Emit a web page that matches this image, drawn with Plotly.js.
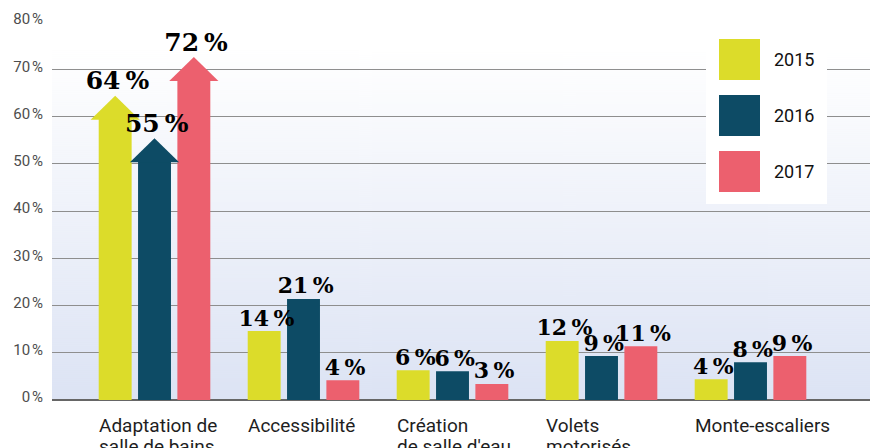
<!DOCTYPE html>
<html><head><meta charset="utf-8">
<script src="https://cdn.plot.ly/plotly-3.0.1.min.js"></script>
<style>html,body{margin:0;padding:0;background:#fff}#chart{width:872px;height:448px}</style>
</head><body><div id="chart"></div>
<script>
// ---- data ----
const categories = ['Adaptation de<br>salle de bains', 'Accessibilité', 'Création<br>de salle d\'eau', 'Volets<br>motorisés', 'Monte-escaliers'];
const years = ['2015', '2016', '2017'];
const values2015 = [64.4, 14.6, 6.3, 12.5, 4.4];
const values2016 = [55.4, 21.4, 6.1, 9.3, 8.0];
const values2017 = [72.6, 4.2, 3.4, 11.4, 9.3];
const labels2015 = ['64 %', '14 %', '6 %', '12 %', '4 %'];
const labels2016 = ['55 %', '21 %', '6 %', '9 %', '8 %'];
const labels2017 = ['72 %', '4 %', '3 %', '11 %', '9 %'];
const arrowCategories = [0];
const yTicks = [0, 10, 20, 30, 40, 50, 60, 70, 80];

// ---- styling / layout helpers ----
const colors = ['#dcdc2a', '#0d4b65', '#ec606e'];
const series = [values2015, values2016, values2017];
const seriesLabels = [labels2015, labels2016, labels2017];
const offsets = [-0.264, 0, 0.264];
const barW = 0.221;
const headH = 5.1;      // arrow head height in % units
const headHalf = 0.165; // arrow head half width in x units
const xRange = [-0.688, 4.802];
const plotL = 52, plotR = 870, plotT = 22, plotB = 400;
const pw = plotR - plotL, ph = plotB - plotT;
const nbsp = '\u202F';

const traces = [];
// bars
series.forEach((vals, k) => {
  traces.push({
    type: 'bar',
    x: vals.map((v, i) => i + offsets[k]),
    y: vals.map((v, i) => arrowCategories.includes(i) ? v - headH + 0.3 : v),
    width: vals.map(() => barW),
    marker: {color: colors[k], line: {width: 0}},
    name: years[k], showlegend: false, hoverinfo: 'skip'
  });
});
// arrow heads
series.forEach((vals, k) => {
  arrowCategories.forEach(i => {
    const cx = i + offsets[k], v = vals[i];
    traces.push({
      type: 'scatter', mode: 'lines', fill: 'toself',
      x: [cx - headHalf, cx, cx + headHalf, cx - headHalf],
      y: [v - headH, v, v - headH, v - headH],
      fillcolor: colors[k], line: {width: 0, color: colors[k]},
      showlegend: false, hoverinfo: 'skip'
    });
  });
});
// value labels
series.forEach((vals, k) => {
  traces.push({
    type: 'scatter', mode: 'text',
    x: vals.map((v, i) => i + offsets[k] + 0.015),
    y: vals,
    text: seriesLabels[k].map(t => t.replace(' ', nbsp)),
    textposition: 'top center',
    textfont: {family: 'DejaVu Serif, serif', size: vals.map((v, i) => arrowCategories.includes(i) ? 25 : 22), color: '#000', weight: 'bold'},
    cliponaxis: false, showlegend: false, hoverinfo: 'skip'
  });
});

// background gradient image
const cv = document.createElement('canvas');
cv.width = 4; cv.height = 350;
const ctx = cv.getContext('2d');
const g = ctx.createLinearGradient(0, 0, 0, 350);
g.addColorStop(0, '#ffffff');
g.addColorStop(1, '#dce3f4');
ctx.fillStyle = g; ctx.fillRect(0, 0, 4, 350);
const bgTop = (plotB - 50) / ph * 80;

// category labels (left aligned at first bar)
const annotations = [];
categories.forEach((c, i) => {
  c.split('<br>').forEach((line, j) => {
    annotations.push({
      text: line, xref: 'x', yref: 'paper', x: i + offsets[0] - barW / 2, y: 0,
      xanchor: 'left', yanchor: 'top', showarrow: false, align: 'left',
      yshift: -12 - j * 21, xshift: -2,
      font: {family: 'Roboto, sans-serif', size: 19, color: '#1e1e1e'}
    });
  });
});

// custom legend
const px2x = p => (p - plotL) / pw;
const px2y = p => (plotB - p) / ph;
const shapes = [{
  type: 'rect', xref: 'paper', yref: 'paper', layer: 'above',
  x0: px2x(706), x1: px2x(827), y0: px2y(204), y1: px2y(26),
  fillcolor: '#ffffff', line: {width: 0}
}];
years.forEach((yr, k) => {
  const top = 39 + k * 56;
  shapes.push({
    type: 'rect', xref: 'paper', yref: 'paper', layer: 'above',
    x0: px2x(719), x1: px2x(760), y0: px2y(top + 41), y1: px2y(top),
    fillcolor: colors[k], line: {width: 0}
  });
  annotations.push({
    text: yr, xref: 'paper', yref: 'paper', x: px2x(772), y: px2y(top + 20.5),
    xanchor: 'left', yanchor: 'middle', showarrow: false,
    font: {family: 'Roboto, sans-serif', size: 18, color: '#111'}
  });
});

const layout = {
  width: 872, height: 448,
  margin: {l: plotL, r: 872 - plotR, t: plotT, b: 448 - plotB, pad: 0},
  paper_bgcolor: '#ffffff', plot_bgcolor: 'rgba(0,0,0,0)',
  barmode: 'overlay',
  xaxis: {range: xRange, showgrid: false, zeroline: false, showticklabels: false, ticks: '', fixedrange: true},
  yaxis: {
    range: [0, 80], tickvals: yTicks, ticktext: yTicks.map(t => t + nbsp + '%'),
    showgrid: true, gridcolor: '#8e8e8e', gridwidth: 1,
    zeroline: true, zerolinecolor: '#666666', zerolinewidth: 2,
    ticks: '', ticklabelstandoff: 8, ticklabelshift: -3,
    tickfont: {family: 'Roboto, sans-serif', size: 15, color: '#4d4d4d'}, fixedrange: true
  },
  images: [{
    source: cv.toDataURL('image/png'), xref: 'x', yref: 'y',
    x: xRange[0], y: bgTop, sizex: xRange[1] - xRange[0], sizey: bgTop,
    xanchor: 'left', yanchor: 'top', sizing: 'stretch', layer: 'below'
  }],
  shapes: shapes,
  annotations: annotations,
  showlegend: false
};
Plotly.newPlot('chart', traces, layout, {staticPlot: true, displayModeBar: false});
</script></body></html>
